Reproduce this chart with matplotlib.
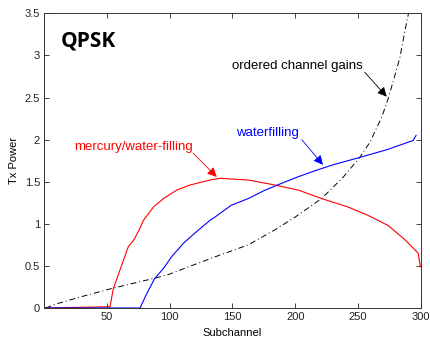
import matplotlib
matplotlib.use("Agg")
import matplotlib.pyplot as plt

# Sorted inverse channel gains (black dash-dot)
gain_x = [1, 10, 28.5, 52, 70, 89.6, 99.4, 117, 134.7, 162.6, 184, 200, 221, 238,
          251, 259.6, 269, 273.5, 279, 283.5, 287, 290, 291.5]
gain_y = [0.0, 0.05, 0.13, 0.225, 0.29, 0.36, 0.40, 0.50, 0.60, 0.75, 0.93, 1.08,
          1.30, 1.55, 1.78, 1.97, 2.27, 2.46, 2.74, 2.98, 3.26, 3.48, 3.56]

# Mercury/water-filling power allocation (red)
mwf_x = [1, 52.4, 55, 60.3, 67, 71, 75, 79, 87, 95, 105.5, 116, 132, 140, 162.6, 184,
         202.6, 221, 242, 258, 274, 287.5, 295.5, 298, 299.5, 300]
mwf_y = [0.0, 0.015, 0.23, 0.45, 0.73, 0.80, 0.91, 1.04, 1.20, 1.30, 1.40, 1.46, 1.52,
         1.54, 1.52, 1.46, 1.40, 1.30, 1.20, 1.10, 0.98, 0.81, 0.69, 0.65, 0.51, 0.49]

# Classic waterfilling power allocation (blue)
wf_x = [1, 76.3, 81.6, 88, 95, 101.5, 111, 120, 132, 136, 149, 162.6, 176, 189,
        202.6, 215.7, 230, 251.8, 273, 294, 296.3]
wf_y = [0.0, 0.0, 0.17, 0.35, 0.47, 0.61, 0.77, 0.89, 1.04, 1.08, 1.22, 1.30,
        1.40, 1.48, 1.56, 1.63, 1.70, 1.79, 1.88, 1.99, 2.05]

x_ticks = [50, 100, 150, 200, 250, 300]
y_ticks = [0, 0.5, 1, 1.5, 2, 2.5, 3, 3.5]
y_tick_labels = ["0", "0.5", "1", "1.5", "2", "2.5", "3", "3.5"]

plt.rcParams["font.family"] = ["Liberation Sans", "DejaVu Sans"]

fig = plt.figure(figsize=(4.30, 3.37), dpi=100)
ax = fig.add_axes([44.3 / 430, 29 / 337, 376.4 / 430, 294.7 / 337])

ax.plot(gain_x, gain_y, color="black", lw=0.7, linestyle=(0, (6, 3, 1, 3)))
ax.plot(mwf_x, mwf_y, color="#ff0000", lw=0.8)
ax.plot(wf_x, wf_y, color="#0000ff", lw=0.8)

ax.set_xlim(0, 300)
ax.set_ylim(0, 3.5)
ax.set_xticks(x_ticks)
ax.set_xticklabels([str(t) for t in x_ticks])
ax.set_yticks(y_ticks)
ax.set_yticklabels(y_tick_labels)
ax.tick_params(direction="in", length=3.5, width=0.6, labelsize=8,
               top=True, right=True, colors="#222222", pad=3)
for s in ax.spines.values():
    s.set_linewidth(0.7)
    s.set_color("#333333")

ax.set_xlabel("Subchannel", fontsize=8, labelpad=4)
ax.set_ylabel("Tx Power", fontsize=8, labelpad=4)

ax.text(0.045, 0.905, "QPSK", transform=ax.transAxes, fontsize=15,
        fontweight="bold", family=["Open Sans", "DejaVu Sans"],
        va="center", ha="left")

arrow_kw = dict(arrowstyle="-|>", lw=0.6, mutation_scale=14, shrinkA=0, shrinkB=0)

ax.text(202, 2.88, "ordered channel gains", fontsize=9.5, color="black",
        ha="center", va="center")
ax.annotate("", xy=(272.9, 2.51), xytext=(255.4, 2.80),
            arrowprops=dict(color="black", **arrow_kw))

ax.text(178, 2.08, "waterfilling", fontsize=9.5, color="#0000ff",
        ha="center", va="center")
ax.annotate("", xy=(222.1, 1.70), xytext=(205.2, 2.00),
            arrowprops=dict(color="#0000ff", **arrow_kw))

ax.text(71, 1.91, "mercury/water-filling", fontsize=9.5, color="#ff0000",
        ha="center", va="center")
ax.annotate("", xy=(137.4, 1.557), xytext=(118.5, 1.84),
            arrowprops=dict(color="#ff0000", **arrow_kw))

fig.savefig("out.png", dpi=100)
